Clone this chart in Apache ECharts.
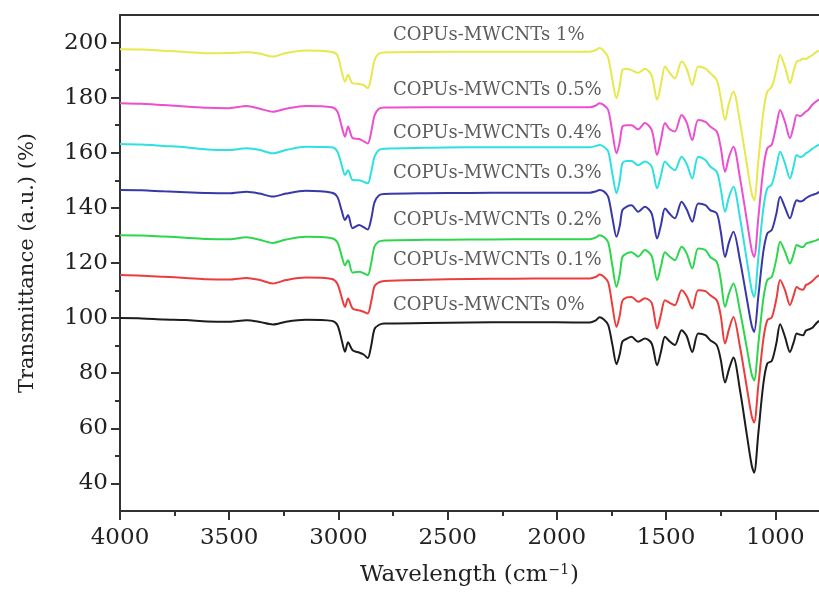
<!DOCTYPE html>
<html>
<head>
<meta charset="utf-8">
<title>FTIR spectra</title>
<script src="https://cdn.jsdelivr.net/npm/echarts@6/dist/echarts.min.js"></script>
<style>
  html, body { margin: 0; padding: 0; background: #fff; }
  #chart { width: 819px; height: 592px; }
</style>
</head>
<body>
<div id="chart"></div>
<script>
  // wavenumbers (cm-1), shared by all spectra
  const wavenumbers = [
    4000, 3900, 3800, 3700, 3600, 3500, 3420, 3360, 3300, 3240, 3150, 3030,
    3005, 2985, 2970, 2956, 2935, 2905, 2885, 2866, 2850, 2835, 2815, 2790,
    2600, 2400, 2200, 2000, 1850, 1820, 1805, 1785, 1765,
    1745, 1727, 1712, 1700, 1680, 1658, 1628, 1597, 1566, 1541, 1523, 1505, 1483,
    1460, 1429, 1406, 1380, 1353, 1320, 1298, 1268, 1250, 1230, 1212, 1192,
    1162, 1131, 1108, 1097, 1078, 1055, 1037, 1016, 995, 978, 955, 933, 915, 902,
    887, 873, 860, 850, 830, 810, 800
  ];

  const t0 = [
    100, 99.9, 99.5, 99.3, 98.8, 98.7, 99.2, 98.6, 97.7, 98.7, 99.4, 99,
    97.5, 92, 87.8, 91.2, 88.3, 87.5, 86.8, 85.5, 90, 96, 97.5, 98,
    98.2, 98.4, 98.5, 98.5, 98.4, 99.3, 100.3, 99.5, 97.5,
    90, 83.3, 87, 91.5, 92.5, 93.2, 91.4, 92.6, 90.8, 82.9, 88, 93.2, 91.5,
    90.2, 95.6, 93.5, 87.7, 94.4, 93.8, 92, 90.2, 85, 76.6, 81.5, 85.7,
    74, 58, 46.5, 43.9, 58, 76, 83.5, 84.5, 91, 97.8, 93, 87.7, 91.5, 94.4,
    94, 93.8, 95.5, 95.8, 96.5, 98.3, 99
  ];
  const t01 = [
    115.6, 115.4, 115, 114.6, 114.1, 114, 114.6, 113.8, 112.6, 113.8, 114.7, 114.2,
    112.5, 107.5, 104.1, 107.1, 103.5, 102.8, 102.3, 101.7, 106, 111.5, 113, 113.5,
    113.9, 114.2, 114.3, 114.4, 114.4, 115, 115.8, 115, 113,
    104, 96.8, 101, 106.3, 107.5, 107.7, 105.9, 107.2, 105.5, 96.2, 101.5, 106.5, 105.5,
    104.7, 110.1, 108, 103.5, 110.1, 109.8, 108.3, 106.5, 101, 90.8, 96, 100.4,
    89.7, 75.1, 64.4, 62.1, 75.3, 92.2, 99.2, 100.3, 107, 113.8, 110, 104.7, 108.5, 111.3,
    110.5, 110.3, 112, 112.3, 113.5, 115, 115.5
  ];
  const t02 = [
    130.1, 130, 129.6, 129.2, 128.7, 128.6, 129.3, 128.4, 127.3, 128.5, 129.5, 129,
    127.5, 122.5, 119.2, 121, 116.5, 116.8, 116.3, 115.6, 120, 126, 127.8, 128.2,
    128.4, 128.5, 128.6, 128.6, 128.6, 129.3, 130.1, 129.4, 127.5,
    118.5, 111.3, 116, 122.2, 123.5, 123.9, 122.3, 124.7, 122.5, 113.8, 119, 123.9, 122.3,
    121, 125.9, 123.5, 118, 125.3, 124.7, 122.2, 120.4, 114, 104.1, 109, 112.6,
    102.7, 89.4, 79.5, 77.4, 90.4, 106.9, 113.8, 115, 121.5, 127.7, 124, 119.8, 123.5, 126.5,
    126, 125.8, 127, 127.3, 127.8, 128.3, 128.8
  ];
  const t03 = [
    146.5, 146.4, 146, 145.7, 145.4, 145.3, 145.9, 145.2, 144.1, 145.2, 146.2, 145.5,
    144, 139, 135.6, 137.4, 132.6, 133.8, 133, 132.2, 136, 142, 144.5, 145,
    145.3, 145.4, 145.5, 145.5, 145.5, 146, 146.5, 146, 144,
    136, 129.5, 133.5, 139.2, 140.5, 141, 138.6, 140.4, 137.9, 128.9, 134, 139.8, 137.8,
    136.2, 142.2, 139.5, 135, 141.6, 141, 139.2, 138, 131.5, 122.2, 127.5, 131.3,
    121.1, 107.3, 97.2, 95, 107.7, 124, 130.7, 132, 138, 144, 140, 136.2, 140.5, 142.8,
    142.3, 142.6, 143.5, 144, 144.7, 145.3, 145.8
  ];
  const t04 = [
    163.2, 163, 162.5, 162, 161.2, 161, 161.6, 161, 159.8, 161, 162.2, 162,
    160.5, 155.5, 151.9, 153.7, 150.1, 150, 149.5, 148.9, 153, 158.5, 161, 161.5,
    161.8, 162, 162, 162, 162, 162.5, 162.8, 162.2, 160.5,
    152, 145.3, 150, 156.2, 157, 157, 155.5, 156.8, 155, 147.1, 152, 156.8, 155,
    153.7, 158.6, 156, 150.7, 158.6, 157.4, 155, 153.1, 147, 138.6, 144, 147.7,
    136.5, 121.3, 110.1, 107.7, 121.7, 139.6, 147.1, 148.5, 155, 160.4, 156, 150.7, 155.5, 159.2,
    158.5, 158.8, 159.8, 160.3, 161.5, 162.5, 163
  ];
  const t05 = [
    178, 177.8, 177.3, 176.8, 176.3, 176.2, 177, 176, 174.9, 176, 177, 176.5,
    175, 169.5, 165.8, 169.5, 165.3, 165, 164.2, 163.4, 167.5, 173.5, 176, 176.4,
    176.5, 176.5, 176.5, 176.5, 176.5, 177.2, 178, 177.3, 175.5,
    167, 159.8, 164, 169.5, 170, 170, 168.5, 170.8, 168.3, 159.2, 165, 170.8, 168.5,
    167.7, 173.7, 171, 164.6, 171.9, 171.2, 169.5, 167.7, 162, 153.1, 158.5, 162.2,
    151, 135.8, 124.6, 122.2, 136.2, 154.1, 161.6, 163, 170, 175.5, 171, 165.3, 170, 173.7,
    173.3, 174, 175, 175.5, 177.5, 178.8, 179.3
  ];
  const t1 = [
    197.6, 197.5, 197, 196.6, 196.1, 196.2, 196.5, 196, 194.9, 196.2, 197.1, 196.6,
    195.5, 189.5, 185.8, 188.3, 185.2, 185, 184.6, 183.4, 187.5, 193.5, 196, 196.4,
    196.6, 196.7, 196.7, 196.7, 196.7, 197.3, 198, 197, 194.5,
    186, 179.8, 184.5, 190.1, 190.5, 190, 189, 190.5, 188, 179.2, 185, 191.3, 188.9,
    187, 193.1, 190.5, 184.6, 191.3, 190.5, 188.9, 186.4, 180, 171.9, 178, 182.2,
    171.2, 156.2, 145.2, 142.8, 156.8, 174.7, 182.2, 184, 190, 195.5, 191, 185.2, 190, 193.1,
    193.5, 194.2, 194, 194.5, 195.5, 196.7, 197
  ];

  const seriesNames = [
    "COPUs-MWCNTs 0%", "COPUs-MWCNTs 0.1%", "COPUs-MWCNTs 0.2%", "COPUs-MWCNTs 0.3%",
    "COPUs-MWCNTs 0.4%", "COPUs-MWCNTs 0.5%", "COPUs-MWCNTs 1%"
  ];
  const seriesValues = [t0, t01, t02, t03, t04, t05, t1];
  // where each curve's name sits (wavenumber, transmittance)
  const nameAnchorX = 2750;
  const nameAnchorY = [104.5, 121, 135.6, 152.5, 167.1, 182.8, 202.8];

  const xTicks = [1000, 1500, 2000, 2500, 3000, 3500, 4000];
  const xMinorTicks = [1250, 1750, 2250, 2750, 3250, 3750];
  const yTicks = [40, 60, 80, 100, 120, 140, 160, 180, 200];
  const yMinorTicks = [50, 70, 90, 110, 130, 150, 170, 190];

  const colors = ["#1c1c1c", "#ec3d3d", "#2dd64c", "#3838a8", "#2ee0e0", "#ec4fd0", "#e6e84c"];
  const serif = "DejaVu Serif";
  const axisColor = "#333";

  const chart = echarts.init(document.getElementById("chart"));

  const lineSeries = seriesValues.map((vals, i) => ({
    name: seriesNames[i],
    type: "line",
    data: wavenumbers.map((w, j) => [w, vals[j]]),
    showSymbol: false,
    smooth: 0.3,
    lineStyle: { color: colors[i], width: 2 },
    itemStyle: { color: colors[i] },
    z: 2 + i
  }));

  const nameSeries = {
    type: "scatter",
    symbolSize: 0,
    data: seriesNames.map((n, i) => [nameAnchorX, nameAnchorY[i], n]),
    label: {
      show: true,
      position: "right",
      distance: 0,
      formatter: p => p.data[2],
      fontFamily: serif,
      fontSize: 18,
      color: "#333"
    },
    z: 20
  };

  chart.setOption({
    animation: false,
    backgroundColor: "#fff",
    grid: { left: 120, right: 0, top: 15, bottom: 81 },
    xAxis: [
      {
        type: "value",
        inverse: true,
        min: 800,
        max: 4000,
        position: "bottom",
        name: "Wavelength (cm{sup|\u22121})",
        nameLocation: "middle",
        nameGap: 52,
        nameTextStyle: {
          fontFamily: serif,
          fontSize: 23,
          color: "#222",
          rich: { sup: { fontFamily: serif, fontSize: 14, color: "#222", verticalAlign: "top", padding: [0, 1, 10, 1] } }
        },
        axisLine: { show: true, lineStyle: { color: axisColor, width: 2 } },
        axisTick: { show: true, length: 9, customValues: xTicks, lineStyle: { color: axisColor, width: 2 } },
        axisLabel: { customValues: xTicks, formatter: v => String(v), fontFamily: serif, fontSize: 23, color: "#222", margin: 16 },
        splitLine: { show: false }
      },
      {
        type: "value",
        inverse: true,
        min: 800,
        max: 4000,
        position: "bottom",
        axisLine: { show: false },
        axisTick: { show: true, length: 5, customValues: xMinorTicks, lineStyle: { color: axisColor, width: 2 } },
        axisLabel: { show: false },
        splitLine: { show: false }
      },
      {
        type: "value",
        inverse: true,
        min: 800,
        max: 4000,
        position: "top",
        axisLine: { show: true, lineStyle: { color: axisColor, width: 2 } },
        axisTick: { show: false },
        axisLabel: { show: false },
        splitLine: { show: false }
      }
    ],
    yAxis: [
      {
        type: "value",
        min: 30,
        max: 210,
        position: "left",
        name: "Transmittance (a.u.) (%)",
        nameLocation: "middle",
        nameRotate: 90,
        nameGap: 82,
        nameTextStyle: { fontFamily: serif, fontSize: 21, color: "#222" },
        axisLine: { show: true, lineStyle: { color: axisColor, width: 2 } },
        axisTick: { show: true, length: 9, customValues: yTicks, lineStyle: { color: axisColor, width: 2 } },
        axisLabel: { customValues: yTicks, formatter: v => String(v), fontFamily: serif, fontSize: 23, color: "#222", margin: 12 },
        splitLine: { show: false }
      },
      {
        type: "value",
        min: 30,
        max: 210,
        position: "left",
        axisLine: { show: false },
        axisTick: { show: true, length: 5, customValues: yMinorTicks, lineStyle: { color: axisColor, width: 2 } },
        axisLabel: { show: false },
        splitLine: { show: false }
      }
    ],
    series: lineSeries.concat([nameSeries])
  });
</script>
</body>
</html>
